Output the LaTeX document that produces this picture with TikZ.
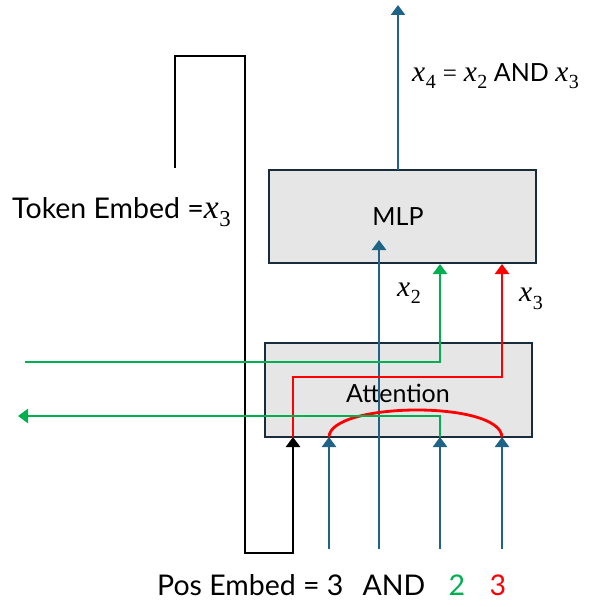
\documentclass[tikz,border=0pt]{standalone}
\usepackage{fontspec}
\usepackage{graphicx}
\setmainfont{Lato}
\newfontfamily\mf{Liberation Serif}
\newcommand\vx[1]{\scalebox{1.18}{\mf\itshape x}\kern0.5pt\raisebox{-0.3em}{\scalebox{0.8}{\mf #1}}}
\usetikzlibrary{arrows.meta}
\definecolor{tblue}{RGB}{31,100,135}
\definecolor{tgreen}{RGB}{0,176,80}
\definecolor{tred}{RGB}{255,0,0}
\definecolor{boxfill}{RGB}{231,230,230}
\definecolor{boxline}{RGB}{24,44,60}
\begin{document}
\begin{tikzpicture}[x=1pt,y=-1pt,
  wire/.style={line width=2.8pt},
  tip/.style={-{Triangle[width=14pt,length=10pt]}},
  box/.style={draw=boxline, fill=boxfill, line width=2pt, inner sep=0pt},
  lbl/.style={inner sep=0pt, font=\fontsize{28.5}{32}\selectfont},
  blbl/.style={inner sep=0pt, font=\fontsize{25}{29}\selectfont}]
\useasboundingbox (0,0) rectangle (597,607);
% boxes
\node[box, minimum width=267pt, minimum height=93pt] (mlp) at (402.5,216.5) {};
\node[box, minimum width=267pt, minimum height=94pt] (att) at (398.5,390) {};
\node[blbl] (mlpt) at (398,217) {MLP};
\node[blbl] (attt) at (398,393) {Attention};
% coordinates
\coordinate (b1) at (329,549); \coordinate (b1e) at (329,437);
\coordinate (b2) at (379,549); \coordinate (b2e) at (379,240);
\coordinate (b3) at (440,549); \coordinate (b3e) at (440,437);
\coordinate (b4) at (502,549); \coordinate (b4e) at (502,437);
\coordinate (o1) at (398,170); \coordinate (o2) at (398,5);
\coordinate (k1) at (175,168); \coordinate (k2) at (175,56); \coordinate (k3) at (245,56);
\coordinate (k4) at (245,553); \coordinate (k5) at (293,553); \coordinate (k6) at (293,437);
\coordinate (g1) at (25,362); \coordinate (g2) at (440,362); \coordinate (g3) at (440,264);
\coordinate (h1) at (440,437); \coordinate (h2) at (440,416); \coordinate (h3) at (18,416);
\coordinate (r0) at (293,488); \coordinate (r1) at (293,377); \coordinate (r2) at (502,377); \coordinate (r3) at (502,264);
% blue arrows
\draw[wire, tblue, tip] (b1) -- (b1e);
\draw[wire, tblue, tip] (b2) -- (b2e);
\draw[wire, tblue, tip] (b3) -- (b3e);
\draw[wire, tblue, tip] (b4) -- (b4e);
\draw[wire, tblue, tip] (o1) -- (o2);
% red path
\draw[wire, tred, tip] (r0) -- (k6) -- (r1) -- (r2) -- (r3);
\draw[wire, tred] (b1e) .. controls (330,402) and (500,400) .. (b4e);
% black wire
\draw[wire, black, tip, line join=miter] (k1) -- (k2) -- (k3) -- (k4) -- (k5) -- (k6);
% green
\draw[wire, tgreen, tip] (g1) -- (g2) -- (g3);
\draw[wire, tgreen, tip] (h1) -- (h2) -- (h3);
% labels
\node[lbl, anchor=west] (tok) at (12,212) {Token Embed =\vx{3}};
\node[blbl, anchor=west] (out) at (412,76) {\vx{4}\hspace{7pt}{\mf =}\hspace{7pt}\vx{2} AND \vx{3}};
\node[blbl] (x2) at (409,293) {\vx{2}};
\node[blbl] (x3) at (531,299) {\vx{3}};
\node[lbl, anchor=west] (pos) at (157,585) {Pos Embed = 3};
\node[lbl] (and) at (394,585) {AND};
\node[lbl, text=tgreen] (two) at (457,585) {2};
\node[lbl, text=tred] (three) at (498,585) {3};
\end{tikzpicture}
\end{document}
